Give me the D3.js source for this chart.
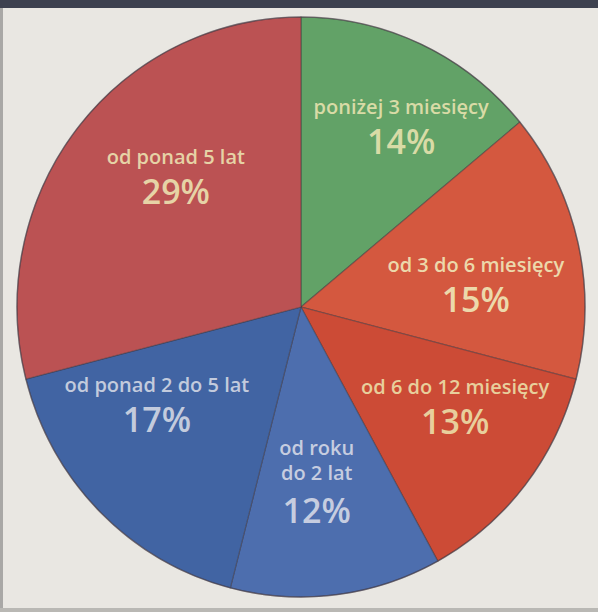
<!DOCTYPE html>
<html>
<head>
<meta charset="utf-8">
<script src="https://cdn.jsdelivr.net/npm/d3@7"></script>
<style>
  html, body { margin: 0; padding: 0; background: #e8e6e1; }
  svg { display: block; }
</style>
</head>
<body>
<svg id="chart" width="598" height="612"></svg>
<script>
// ---- data ----
const categories = ["poniżej 3 miesięcy", "od 3 do 6 miesięcy", "od 6 do 12 miesięcy", "od roku|do 2 lat", "od ponad 2 do 5 lat", "od ponad 5 lat"];
const values = [14, 15, 13, 12, 17, 29];
const pctLabels = ["14%", "15%", "13%", "12%", "17%", "29%"];

// ---- styling / layout ----
const sliceColors = ["#62a267", "#d4583f", "#cc4b36", "#4d6eae", "#4164a3", "#bb5253"];
const textColors = ["#d9dba6", "#ecd9ab", "#e8cf9c", "#c6cde0", "#c3cbdd", "#e6d3a6"];
const labelShift = [[23, -26], [-2, 5], [11, -26], [-7, -36], [-16, -46], [18, -30]];

const W = 598, H = 612;
const cx = 301, cy = 307, R = 290, sx = 284 / 290;
const svg = d3.select("#chart");

// background paper
svg.append("rect").attr("x", 0).attr("y", 0).attr("width", W).attr("height", H).attr("fill", "#e9e7e2");
svg.append("rect").attr("x", 0).attr("y", 0).attr("width", W).attr("height", 8).attr("fill", "#3d414f");
svg.append("rect").attr("x", 0).attr("y", 8).attr("width", 3).attr("height", H - 8).attr("fill", "#a9a8a6");
svg.append("rect").attr("x", 0).attr("y", H - 4).attr("width", W).attr("height", 4).attr("fill", "#b9b8b4");

const pie = d3.pie().sort(null).value(d => d)(values);
const arc = d3.arc().innerRadius(0).outerRadius(R);
const labelArc = d3.arc().innerRadius(185).outerRadius(185);

const g = svg.append("g").attr("transform", `translate(${cx},${cy}) scale(${sx},1)`);
g.selectAll("path.slice").data(pie).join("path")
  .attr("class", "slice")
  .attr("d", arc)
  .attr("fill", (d, i) => sliceColors[i])
  .attr("stroke", "rgba(60,50,60,0.45)")
  .attr("stroke-width", 1.2);

// outer rim
g.append("circle").attr("r", R).attr("fill", "none")
  .attr("stroke", "rgba(70,60,70,0.5)").attr("stroke-width", 1.5);

const labels = svg.append("g").attr("transform", `translate(${cx},${cy})`);
pie.forEach((d, i) => {
  const c = labelArc.centroid(d);
  const x = c[0] * sx + labelShift[i][0];
  const y = c[1] + labelShift[i][1];
  const lines = categories[i].split("|");
  const lg = labels.append("g").attr("transform", `translate(${x},${y})`)
    .attr("fill", textColors[i])
    .attr("font-family", "'Open Sans', 'Noto Sans', sans-serif")
    .attr("text-anchor", "middle");
  lines.forEach((t, k) => {
    lg.append("text").attr("x", 0).attr("y", k * 25)
      .attr("font-size", 20).attr("font-weight", 600).text(t);
  });
  lg.append("text").attr("x", 0).attr("y", (lines.length - 1) * 25 + (lines.length > 1 ? 43 : 40))
    .attr("font-size", 34).attr("font-weight", 600).text(pctLabels[i]);
});
</script>
</body>
</html>
